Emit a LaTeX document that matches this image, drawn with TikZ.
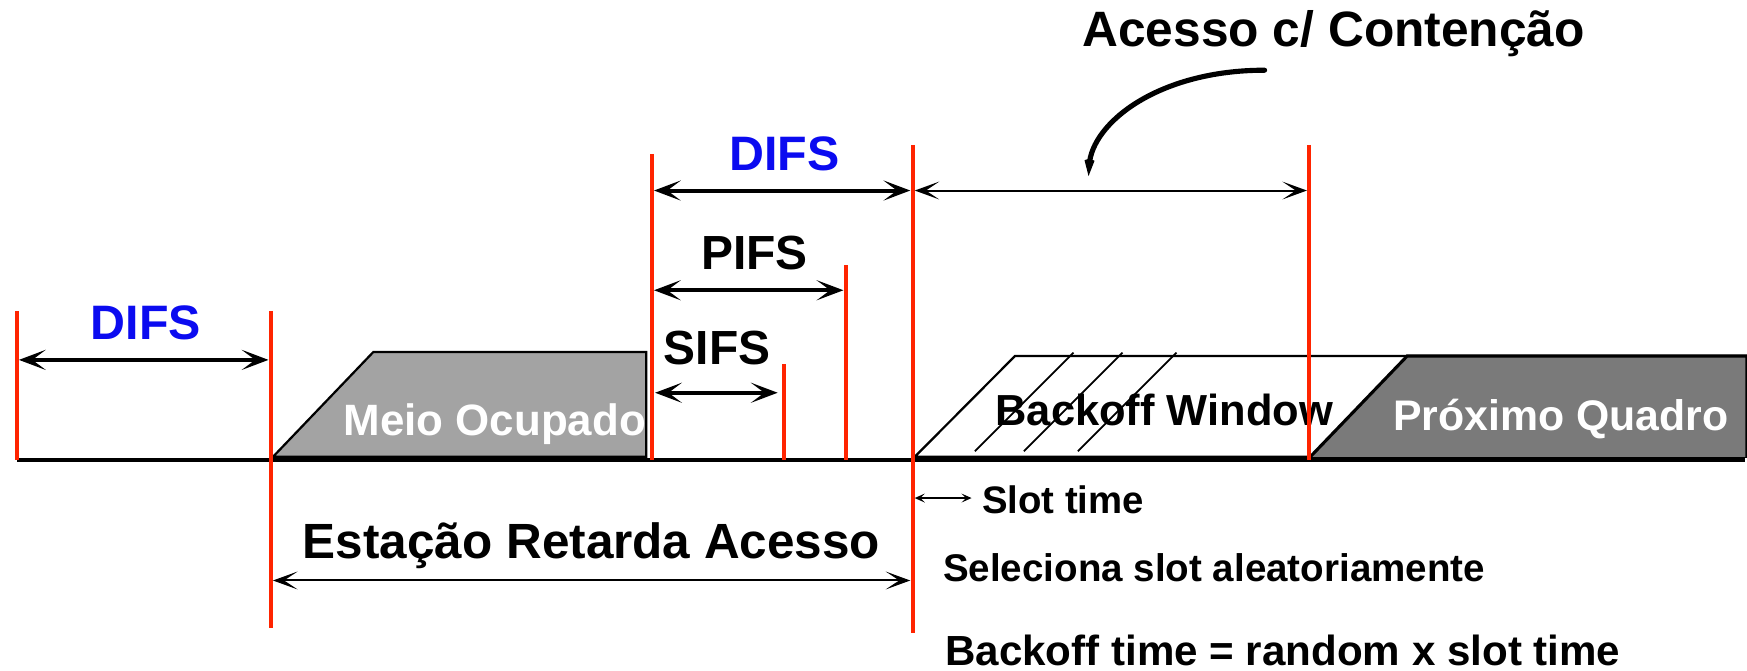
\documentclass[tikz,border=0pt]{standalone}
\usepackage{fontspec}
\setmainfont{Liberation Sans}
\usetikzlibrary{arrows.meta}
\definecolor{markred}{HTML}{FF2400}
\definecolor{ifsblue}{HTML}{0B0BF0}
\definecolor{busygray}{HTML}{A3A3A3}
\definecolor{nextgray}{HTML}{7A7A7A}
\newcommand{\lblsize}[1]{\bfseries\fontsize{#1}{#1}\selectfont}
\tikzset{
  red mark/.style={draw=markred, line width=1.8pt},
  medium/.style={line width=1.9pt},
  frame/.style={line width=1pt},
  hatch/.style={line width=0.8pt},
  thick span/.style={<->, >={Stealth[length=12pt,width=9pt,inset=6pt]}, line width=1.8pt},
  thin span/.style={<->, >={Stealth[length=11pt,width=8pt,inset=6pt]}, line width=0.9pt},
  small span/.style={<->, >={Stealth[length=4.5pt,width=4pt,inset=2pt]}, line width=0.8pt},
  label/.style={anchor=base, inner sep=0pt},
  ifs label/.style={label, font=\lblsize{21.5}},
  note/.style={anchor=base west, inner sep=0pt},
}

\begin{document}
\begin{tikzpicture}[x=0.5pt,y=-0.5pt]
  \useasboundingbox (0,0) rectangle (1568,602);

  % frames on the medium
  \draw[frame, fill=busygray] (245,410) -- (335,316) -- (580,316) -- (580,410) -- cycle;
  \draw[frame, fill=white] (821,410) -- (911,319.5) -- (1568,319.5) -- (1568,410) -- cycle;
  \foreach \x in {875,919,967.5}
    \draw[hatch] (\x,405) -- ++(88.5,-88.5);
  \draw[frame, line width=1.4pt, fill=nextgray] (1176,410) -- (1263,319.5) -- (1568,319.5) -- (1568,410);
  \draw[medium] (15,413) -- (1566,413);

  \node[label, text=white, font=\lblsize{19.7}] (busy) at (444,391) {Meio Ocupado};
  \node[label, font=\lblsize{19.5}] (backoff) at (1045,382) {Backoff Window};
  \node[label, text=white, font=\lblsize{19.2}] (next) at (1401,386) {Próximo Quadro};

  % red marks
  \foreach \x/\top/\bot/\name in {15/279/413/m0, 243/279/564/m1, 585/138/413/m2,
      704/327/413/m3, 759/238/413/m4, 819/130/568/m5, 1175/130/413/m6}
    \draw[red mark] (\x,\top) coordinate (\name top) -- (\x,\bot) coordinate (\name bot);

  % spans
  \coordinate (difsA) at (17,323);   \coordinate (difsB) at (241,323);
  \coordinate (difsC) at (587,171);  \coordinate (difsD) at (817,171);
  \coordinate (pifsA) at (587,260.5); \coordinate (pifsB) at (757,260.5);
  \coordinate (sifsA) at (588,352.5); \coordinate (sifsB) at (698,352.5);
  \coordinate (contA) at (821,171);  \coordinate (contB) at (1173,171);
  \coordinate (waitA) at (245,521);  \coordinate (waitB) at (817,521);
  \coordinate (slotA) at (821,447);  \coordinate (slotB) at (872,447);

  \draw[thick span] (difsA) -- (difsB);
  \draw[thick span] (difsC) -- (difsD);
  \draw[thick span] (pifsA) -- (pifsB);
  \draw[thick span] (sifsA) -- (sifsB);
  \draw[thin span] (contA) -- (contB);
  \draw[thin span] (waitA) -- (waitB);
  \draw[small span] (slotA) -- (slotB);

  \node[ifs label, text=ifsblue, font=\lblsize{21.7}] (difs1) at (131,305) {DIFS};
  \node[ifs label, text=ifsblue, font=\lblsize{21.7}] (difs2) at (704,153) {DIFS};
  \node[ifs label] (pifs) at (677,242) {PIFS};
  \node[ifs label] (sifs) at (643.5,327) {SIFS};
  \node[label, font=\lblsize{22.2}] (wait) at (531,501) {Estação Retarda Acesso};
  \node[label, font=\lblsize{22.3}] (title) at (1197,41.5) {Acesso c/ Contenção};

  \node[note, font=\lblsize{17.2}] (slot) at (881,461) {Slot time};
  \node[note, font=\lblsize{17.3}] (pick) at (846,522) {Seleciona slot aleatoriamente};
  \node[note, font=\lblsize{18.9}] (rule) at (848,597) {Backoff time = random x slot time};

  % hook arrow
  \coordinate (hook) at (1135,63);
  \coordinate (hookend) at (977,158);
  \draw[line width=2.3pt, line cap=round, -{Stealth[length=14pt,width=9pt,inset=8pt]}]
    (hook) .. controls (1040,63) and (980,110) .. (hookend);
\end{tikzpicture}
\end{document}
